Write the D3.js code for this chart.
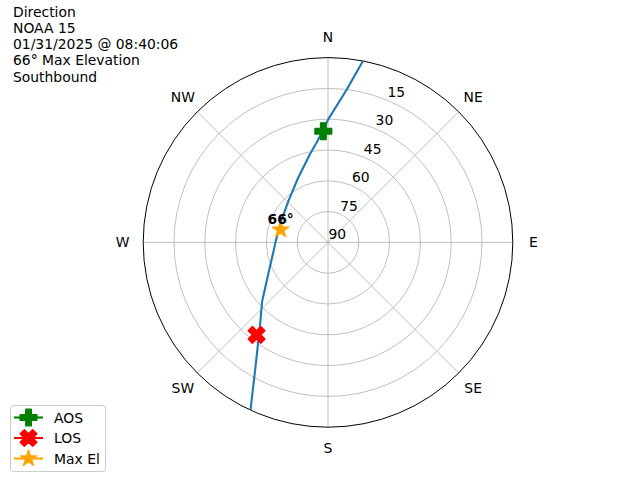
<!DOCTYPE html>
<html><head><meta charset="utf-8">
<script src="https://cdn.jsdelivr.net/npm/d3@7"></script>
<style>body{margin:0;background:#fff}svg{display:block}text{font-family:"DejaVu Sans",sans-serif;font-size:13.9px;fill:#000}</style>
</head><body>
<svg id="c" width="640" height="480"></svg>
<script>
// Data
const titleLines = ["Direction", "NOAA 15", "01/31/2025 @ 08:40:06", "66\u00b0 Max Elevation", "Southbound"];
const pathAz = [10.9, 7.0, 0.1, 354, 348.4, 334.9, 315.9, 294.1, 271.1, 260.6, 247.5, 228.1, 219, 210.1, 204.8];
const pathEl = [0, 15, 30.1, 40.5, 46.2, 55.5, 62.2, 64.9, 64.5, 63.1, 59.4, 46.9, 37.3, 19.5, 0];
const aosPoint = {az: 357.6, el: 35.8};
const losPoint = {az: 217.7, el: 33.1};
const maxElPoint = {az: 285, el: 66.1};
const maxElLabel = "66\u00b0";
const compassLabels = ["N", "NE", "E", "SE", "S", "SW", "W", "NW"];
const compassAngles = [0, 45, 90, 135, 180, 225, 270, 315];
const radialTicks = [90, 75, 60, 45, 30, 15];
const legendLabels = ["AOS", "LOS", "Max El"];

const svg = d3.select("#c");
const cx = 328, cy = 242.4, R = 184.8;
const r = d3.scaleLinear().domain([90, 0]).range([0, R]);
const ang = d3.scaleLinear().domain([0, 360]).range([0, 2 * Math.PI]);
const g = svg.append("g").attr("transform", `translate(${cx},${cy})`);
const pt = (az, el) => { const a = ang(az), rr = r(el); return [rr * Math.sin(a), -rr * Math.cos(a)]; };

// grid
g.selectAll("circle.grid").data(radialTicks.filter(d => d < 90)).join("circle")
  .attr("r", d => r(d)).attr("fill", "none").attr("stroke", "#b0b0b0").attr("stroke-width", 0.8);
g.selectAll("line.spoke").data(compassAngles).join("line")
  .attr("x1", 0).attr("y1", 0)
  .attr("x2", d => pt(d, 0)[0]).attr("y2", d => pt(d, 0)[1])
  .attr("stroke", "#b0b0b0").attr("stroke-width", 0.8);
g.append("circle").attr("r", R).attr("fill", "none").attr("stroke", "#000").attr("stroke-width", 1);

// compass labels
g.selectAll("text.cmp").data(compassLabels).join("text")
  .attr("x", (d, i) => (R + 20.5) * Math.sin(ang(compassAngles[i])))
  .attr("y", (d, i) => -(R + 20.5) * Math.cos(ang(compassAngles[i])))
  .attr("text-anchor", "middle").attr("dominant-baseline", "central").text(d => d);

// radial labels
g.selectAll("text.rl").data(radialTicks).join("text")
  .attr("x", d => pt(22.5, d)[0] + 9.3)
  .attr("y", d => pt(22.5, d)[1] - 8.4)
  .attr("text-anchor", "middle").attr("dominant-baseline", "central").text(d => d);

// path
const pathData = pathAz.map((a, i) => [ang(a), r(pathEl[i])]);
g.append("path").attr("d", d3.lineRadial()(pathData))
  .attr("fill", "none").attr("stroke", "#1f77b4").attr("stroke-width", 2.1).attr("stroke-linejoin", "round");

// marker shapes
const S = 16.7;
const plusPts = [[-1,-3],[-1,-1],[-3,-1],[-3,1],[-1,1],[-1,3],[1,3],[1,1],[3,1],[3,-1],[1,-1],[1,-3]].map(p => [p[0]/6*S, p[1]/6*S]);
const xPts = [[-1,-2],[0,-1],[1,-2],[2,-1],[1,0],[2,1],[1,2],[0,1],[-1,2],[-2,1],[-1,0],[-2,-1]].map(p => [p[0]/4*S, p[1]/4*S]);
const starPts = [];
for (let i = 0; i < 10; i++) {
  const rr = (i % 2 === 0 ? 0.5 : 0.5 * 0.381966) * S;
  const a = i * Math.PI / 5;
  starPts.push([rr * Math.sin(a), -rr * Math.cos(a)]);
}
const poly = p => "M" + p.map(q => q.join(",")).join("L") + "Z";
const markers = [
  {shape: plusPts, color: "green", p: aosPoint},
  {shape: xPts, color: "red", p: losPoint},
  {shape: starPts, color: "orange", p: maxElPoint}
];
markers.forEach(m => {
  const [x, y] = pt(m.p.az, m.p.el);
  g.append("path").attr("d", poly(m.shape)).attr("transform", `translate(${x},${y})`)
    .attr("fill", m.color).attr("stroke", m.color).attr("stroke-width", 1.4).attr("stroke-linejoin", "round");
});
{
  const [x, y] = pt(maxElPoint.az, maxElPoint.el);
  g.append("text").attr("x", x).attr("y", y - 6).attr("text-anchor", "middle")
    .attr("font-weight", "bold").text(maxElLabel);
}

// title
svg.append("g").selectAll("text").data(titleLines).join("text")
  .attr("x", 13).attr("y", (d, i) => 16.7 + i * 16.2).text(d => d);

// legend
const lg = svg.append("g");
lg.append("rect").attr("x", 10.5).attr("y", 405.5).attr("width", 95).attr("height", 66).attr("rx", 3)
  .attr("fill", "#fff").attr("fill-opacity", 0.8).attr("stroke", "#ccc").attr("stroke-width", 1);
markers.forEach((m, i) => {
  const y = 417.5 + i * 20.5;
  lg.append("line").attr("x1", 14).attr("x2", 43).attr("y1", y).attr("y2", y)
    .attr("stroke", m.color).attr("stroke-width", 2.1);
  lg.append("path").attr("d", poly(m.shape)).attr("transform", `translate(28.5,${y})`)
    .attr("fill", m.color).attr("stroke", m.color).attr("stroke-width", 1.4).attr("stroke-linejoin", "round");
  lg.append("text").attr("x", 54).attr("y", y).attr("dominant-baseline", "central").text(legendLabels[i]);
});
</script>
</body></html>
